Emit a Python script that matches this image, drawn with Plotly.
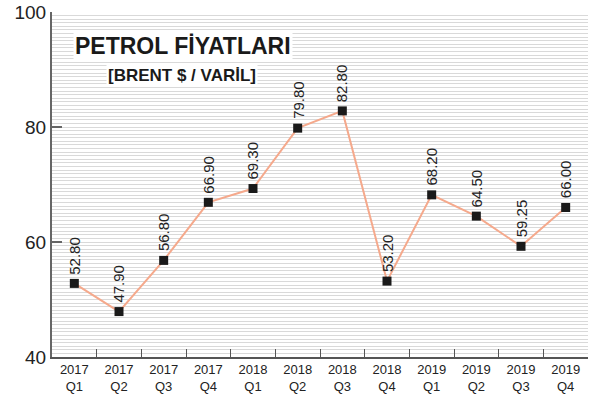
import plotly.graph_objects as go

categories = ["2017<br>Q1", "2017<br>Q2", "2017<br>Q3", "2017<br>Q4",
              "2018<br>Q1", "2018<br>Q2", "2018<br>Q3", "2018<br>Q4",
              "2019<br>Q1", "2019<br>Q2", "2019<br>Q3", "2019<br>Q4"]
prices = [52.80, 47.90, 56.80, 66.90, 69.30, 79.80, 82.80, 53.20, 68.20, 64.50, 59.25, 66.00]
price_labels = ["52.80", "47.90", "56.80", "66.90", "69.30", "79.80", "82.80",
                "53.20", "68.20", "64.50", "59.25", "66.00"]
y_ticks = [40, 60, 80, 100]

FONT = "Liberation Sans, Arial, sans-serif"

fig = go.Figure()
# invisible trace on the overlay axis so its stripe grid is drawn
fig.add_trace(go.Scatter(x=categories[:1], y=[40], yaxis="y2", mode="markers",
                         marker=dict(opacity=0), hoverinfo="skip", showlegend=False))
fig.add_trace(go.Scatter(
    x=categories, y=prices, mode="lines+markers",
    line=dict(color="#F5A98C", width=2),
    marker=dict(symbol="square", size=9, color="#1a1a1a"),
    hoverinfo="skip", showlegend=False, cliponaxis=False,
))

for c, v, t in zip(categories, prices, price_labels):
    fig.add_annotation(x=c, y=v, text=t, textangle=-90, showarrow=False,
                       xanchor="center", yanchor="bottom", yshift=7,
                       font=dict(family=FONT, size=15, color="#222"))

fig.add_annotation(xref="paper", yref="paper", x=0.04, y=0.9, xanchor="left", yanchor="middle",
                   text="<b>PETROL FİYATLARI</b>", showarrow=False, bgcolor="white",
                   font=dict(family=FONT, size=23, color="#1a1a1a"))
fig.add_annotation(xref="paper", yref="paper", x=0.1, y=0.815, xanchor="left", yanchor="middle",
                   text="<b>[BRENT $ / VARİL]</b>", showarrow=False, bgcolor="white",
                   font=dict(family=FONT, size=17, color="#1a1a1a"))

fig.update_layout(
    width=592, height=403,
    margin=dict(l=52, r=4, t=12, b=46, autoexpand=False),
    paper_bgcolor="white", plot_bgcolor="white",
    font=dict(family=FONT, color="#222"),
    xaxis=dict(type="category", showgrid=False, showline=True, linecolor="#555", linewidth=1.5,
               ticks="inside", tickson="boundaries", ticklen=8, tickcolor="#555", tickwidth=1,
               tickfont=dict(size=13, color="#222"), range=[-0.5, 11.5], automargin=False),
    yaxis=dict(range=[40, 100], tickmode="array", tickvals=y_ticks, showgrid=False, zeroline=False,
               showline=True, linecolor="#666", linewidth=2, automargin=False,
               ticks="inside", ticklen=10, tickcolor="#666", tickwidth=2,
               tickfont=dict(size=19, color="#222")),
    yaxis2=dict(overlaying="y", range=[40, 100], tickmode="linear", tick0=40, dtick=0.625,
                showgrid=True, gridcolor="#d9d9d9", gridwidth=1, showticklabels=False,
                ticks="", zeroline=False, showline=False, automargin=False),
)

fig.write_html("out.html", config={"displayModeBar": False},
               post_script="document.body.style.margin='0';document.body.style.overflow='hidden';")
